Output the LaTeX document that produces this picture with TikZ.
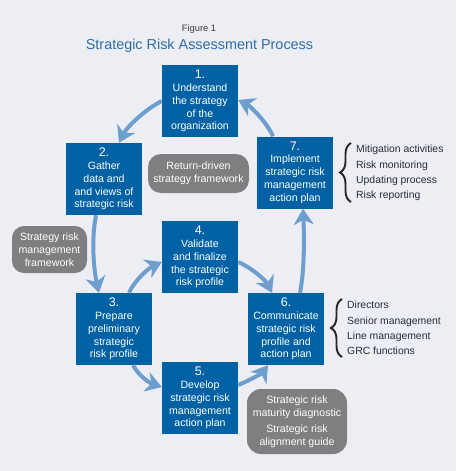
\documentclass[tikz,border=0pt]{standalone}
\usepackage{fontspec}
\setmainfont{Liberation Sans}
\usetikzlibrary{arrows.meta,decorations.pathreplacing}
\definecolor{bgcol}{HTML}{EDEEF3}
\definecolor{boxblue}{HTML}{0062A4}
\definecolor{arrowblue}{HTML}{6E9ECE}
\definecolor{grayfill}{HTML}{7F7F82}
\definecolor{titleblue}{HTML}{2D6EA8}
\definecolor{listtext}{HTML}{272B3B}
\definecolor{figgrey}{HTML}{3A3A40}
\newcommand\stepnum[1]{{\fontsize{12.5}{14}\selectfont #1}}
\begin{document}
\begin{tikzpicture}[x=1pt,y=-1pt,
  stepbox/.style={fill=boxblue, text=white, minimum width=76pt, minimum height=72pt,
    inner sep=0pt, align=center, font=\fontsize{10.6}{12.8}\selectfont},
  grayround/.style={fill=grayfill, text=white, rounded corners=13pt, inner sep=0pt,
    align=center, font=\fontsize{10.6}{12.8}\selectfont},
  flow/.style={draw=arrowblue, line width=4pt,
    -{Stealth[length=16pt,width=20pt,inset=5pt]}},
  listitem/.style={anchor=base west, inner sep=0pt, text=listtext,
    font=\fontsize{10.4}{12}\selectfont},
  bracestyle/.style={draw=black!85, line width=1.9pt, decorate,
    decoration={brace, amplitude=11pt}}
]
\fill[bgcol] (0,0) rectangle (456,471);
\useasboundingbox (0,0) rectangle (456,471);

% titles
\node[font=\fontsize{9.3}{11}\selectfont, text=figgrey, anchor=base] (fig) at (199,31.5) {Figure 1};
\node[font=\fontsize{14.4}{16}\selectfont, text=titleblue, anchor=base] (title) at (199.5,49.3) {Strategic Risk Assessment Process};

% step boxes
\node[stepbox] (b1) at (200,101) {\stepnum{1.}\\Understand\\the strategy\\of the\\organization};
\node[stepbox] (b2) at (104,179) {\stepnum{2.}\\Gather\\data and\\and views of\\strategic risk};
\node[stepbox] (b3) at (114,329) {\stepnum{3.}\\Prepare\\preliminary\\strategic\\risk profile};
\node[stepbox] (b4) at (200,257) {\stepnum{4.}\\Validate\\and finalize\\the strategic\\risk profile};
\node[stepbox] (b5) at (200,398) {\stepnum{5.}\\Develop\\strategic risk\\management\\action plan};
\node[stepbox] (b6) at (286,329) {\stepnum{6.}\\Communicate\\strategic risk\\profile and\\action plan};
\node[stepbox] (b7) at (295,172.5) {\stepnum{7.}\\Implement\\strategic risk\\management\\action plan};

% grey rounded boxes
\node[grayround, minimum width=101pt, minimum height=39pt] (g1) at (198.5,173.5) {Return-driven\\strategy framework};
\node[grayround, minimum width=75pt, minimum height=47pt, rounded corners=12pt] (g2) at (49.5,249.5) {Strategy risk\\management\\framework};
\node[grayround, minimum width=100pt, minimum height=65pt, rounded corners=14pt] (g3) at (297,421.5) {Strategic risk\\maturity diagnostic\\[3.5pt]Strategic risk\\alignment guide};

% arrows
\draw[flow] (b1.west) .. controls +(-16,8) and +(8,-16) .. ([xshift=15pt]b2.north);
\draw[flow] ([xshift=-8pt]b2.south) .. controls +(-5,25) and +(-5,-22) .. ([xshift=-15pt]b3.north);
\draw[flow] ([xshift=15pt]b3.north) .. controls +(6,-13) and +(-13,6) .. ([yshift=-5pt]b4.west);
\draw[flow] ([yshift=-5pt]b4.east) .. controls +(14,6) and +(-6,-12) .. ([xshift=-14pt]b6.north);
\draw[flow] ([xshift=19pt]b3.south) .. controls +(6,11) and +(-12,-4) .. ([yshift=11pt]b5.west);
\draw[flow] ([yshift=13pt]b5.east) .. controls +(12,-5) and +(-6,8) .. ([xshift=-18pt]b6.south);
\draw[flow] ([xshift=14pt]b6.north) .. controls +(5,-25) and +(1,23) .. ([xshift=8pt]b7.south);
\draw[flow] ([xshift=-22pt]b7.north) .. controls +(-6,-14) and +(12,6) .. ([yshift=1pt]b1.east);

% brace lists
\coordinate (br7a) at (351,202);
\coordinate (br7b) at (351,143);
\draw[bracestyle] (br7a) -- (br7b);
\node[listitem] (l7a) at (356,152.5) {Mitigation activities};
\node[listitem] (l7b) at (356,168) {Risk monitoring};
\node[listitem] (l7c) at (356,183.3) {Updating process};
\node[listitem] (l7d) at (356,198.5) {Risk reporting};

\coordinate (br6a) at (342,357);
\coordinate (br6b) at (342,299);
\draw[bracestyle] (br6a) -- (br6b);
\node[listitem] (l6a) at (347,308.5) {Directors};
\node[listitem] (l6b) at (347,324) {Senior management};
\node[listitem] (l6c) at (347,339.3) {Line management};
\node[listitem] (l6d) at (347,354.5) {GRC functions};
\end{tikzpicture}
\end{document}
